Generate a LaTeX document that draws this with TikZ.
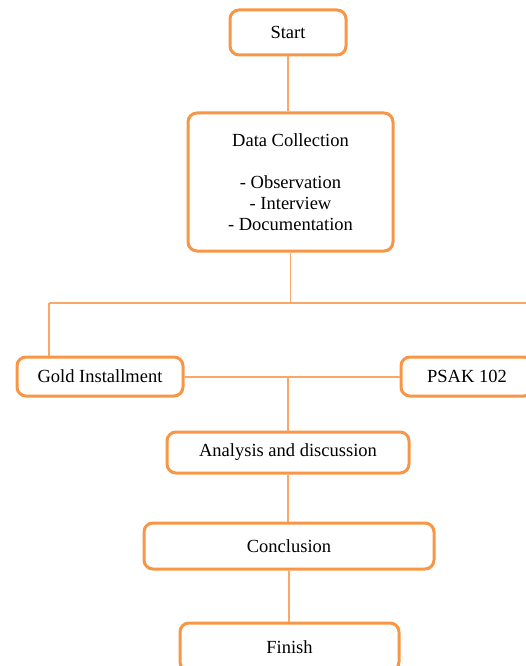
\documentclass[tikz,border=0pt]{standalone}
\usepackage{fontspec}
\setmainfont{Liberation Serif}
\definecolor{boxorange}{HTML}{F79646}
\definecolor{lineorange}{HTML}{F9A868}
\begin{document}
\begin{tikzpicture}[x=1pt,y=-1pt,
  flowbox/.style={draw=boxorange, line width=3pt, rounded corners=9pt, fill=white,
    font=\fontsize{18.5}{21}\selectfont, text=black, inner sep=0pt, align=center},
  conn/.style={draw=lineorange, line width=1.1pt}]
\useasboundingbox (0,0) rectangle (526,666);
\node[flowbox, minimum width=116pt, minimum height=45pt] (start) at (288,32.5) {Start};
\node[flowbox, minimum width=205pt, minimum height=138pt] (dc) at (290.5,182)
  {Data Collection\\[21pt]- Observation\\- Interview\\- Documentation};
\node[flowbox, minimum width=166pt, minimum height=39pt] (gold) at (100,376.5) {Gold Installment};
\node[flowbox, minimum width=132pt, minimum height=39pt] (psak) at (467,376.5) {PSAK 102};
\node[flowbox, minimum width=242pt, minimum height=41pt] (ana) at (288,452.5) {Analysis and discussion};
\node[flowbox, minimum width=290pt, minimum height=46pt] (conc) at (289,546) {Conclusion};
\node[flowbox, minimum width=219pt, minimum height=48pt] (fin) at (289.5,647) {Finish};
\coordinate (jt) at (290.5,303);
\coordinate (jl) at (49,303);
\coordinate (jr) at (530,303);
\coordinate (jm) at (288,377);
\draw[conn] (start.south) -- (start.south |- dc.north);
\draw[conn] (dc.south) -- (jt);
\draw[conn] (jl) -- (jr);
\draw[conn] (jl) -- (jl |- gold.north);
\draw[conn] (gold.east |- jm) -- (psak.west |- jm);
\draw[conn] (jm) -- (ana.north);
\draw[conn] (ana.south) -- (ana.south |- conc.north);
\draw[conn] (conc.south) -- (conc.south |- fin.north);
\end{tikzpicture}
\end{document}
